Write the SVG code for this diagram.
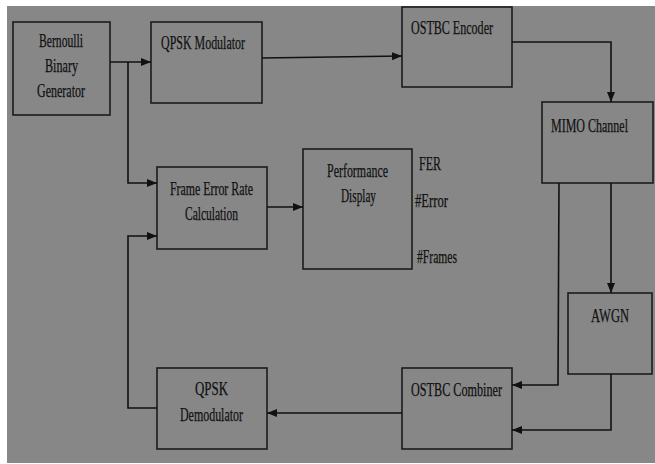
<svg xmlns="http://www.w3.org/2000/svg" width="655" height="464" viewBox="0 0 655 464">
<defs>
<marker id="ah" markerUnits="userSpaceOnUse" markerWidth="10" markerHeight="10" viewBox="0 0 10 10" refX="10" refY="5" orient="auto">
<path d="M0,1 L10,5 L0,9 Z" fill="#111"/>
</marker>
</defs>
<style>
.bx{fill:#878787;stroke:#1c1c1c;stroke-width:1.6}
.t{font-family:"Liberation Serif","Times New Roman",serif;font-size:19px;fill:#111;stroke:#111;stroke-width:0.25}
.c{fill:none;stroke:#111;stroke-width:1.6}
</style>
<rect x="0" y="0" width="655" height="464" fill="#ffffff"/>
<rect x="7" y="6" width="648" height="457" fill="#878787"/>
<g id="bernoulli"><rect class="bx" x="13" y="22" width="97" height="93"/>
<text class="t" x="39" y="47" textLength="44" lengthAdjust="spacingAndGlyphs">Bernoulli</text>
<text class="t" x="45" y="72" textLength="33" lengthAdjust="spacingAndGlyphs">Binary</text>
<text class="t" x="37" y="97" textLength="48" lengthAdjust="spacingAndGlyphs">Generator</text></g>
<g id="qpskmod"><rect class="bx" x="151" y="22" width="111" height="81"/>
<text class="t" x="161" y="49" textLength="84" lengthAdjust="spacingAndGlyphs">QPSK Modulator</text></g>
<g id="encoder"><rect class="bx" x="402" y="7" width="110" height="80"/>
<text class="t" x="411" y="34" textLength="82" lengthAdjust="spacingAndGlyphs">OSTBC Encoder</text></g>
<g id="mimo"><rect class="bx" x="542" y="102" width="111" height="81"/>
<text class="t" x="551" y="132" textLength="77" lengthAdjust="spacingAndGlyphs">MIMO Channel</text></g>
<g id="fer"><rect class="bx" x="157" y="167" width="110" height="82"/>
<text class="t" x="170" y="195" textLength="83" lengthAdjust="spacingAndGlyphs">Frame Error Rate</text>
<text class="t" x="185" y="220" textLength="53" lengthAdjust="spacingAndGlyphs">Calculation</text></g>
<g id="perf"><rect class="bx" x="303" y="149" width="109" height="120"/>
<text class="t" x="327" y="177" textLength="61" lengthAdjust="spacingAndGlyphs">Performance</text>
<text class="t" x="341" y="202" textLength="35" lengthAdjust="spacingAndGlyphs">Display</text>
<text class="t" x="419" y="170" textLength="22" lengthAdjust="spacingAndGlyphs">FER</text>
<text class="t" x="415" y="207" textLength="33" lengthAdjust="spacingAndGlyphs">#Error</text>
<text class="t" x="417" y="263" textLength="40" lengthAdjust="spacingAndGlyphs">#Frames</text></g>
<g id="awgn"><rect class="bx" x="568" y="293" width="84" height="81"/>
<text class="t" x="591" y="322" textLength="38" lengthAdjust="spacingAndGlyphs">AWGN</text></g>
<g id="combiner"><rect class="bx" x="402" y="368" width="110" height="81"/>
<text class="t" x="411" y="396" textLength="91" lengthAdjust="spacingAndGlyphs">OSTBC Combiner</text></g>
<g id="demod"><rect class="bx" x="157" y="368" width="110" height="81"/>
<text class="t" x="195" y="395" textLength="33" lengthAdjust="spacingAndGlyphs">QPSK</text>
<text class="t" x="180" y="421" textLength="63" lengthAdjust="spacingAndGlyphs">Demodulator</text></g>
<g id="connectors">
<path class="c" d="M110,62 L151,62" marker-end="url(#ah)"/>
<path class="c" d="M128,62 L128,183 L157,183" marker-end="url(#ah)"/>
<path class="c" d="M262,58 L402,56" marker-end="url(#ah)"/>
<path class="c" d="M512,42 L611,42 L611,102" marker-end="url(#ah)"/>
<path class="c" d="M611,183 L611,293" marker-end="url(#ah)"/>
<path class="c" d="M559,183 L558,385 L512,385" marker-end="url(#ah)"/>
<path class="c" d="M611,374 L611,430 L512,430" marker-end="url(#ah)"/>
<path class="c" d="M402,413 L267,413" marker-end="url(#ah)"/>
<path class="c" d="M157,408 L128,408 L128,236 L157,236" marker-end="url(#ah)"/>
<path class="c" d="M267,207 L303,207" marker-end="url(#ah)"/>
</g>
</svg>
